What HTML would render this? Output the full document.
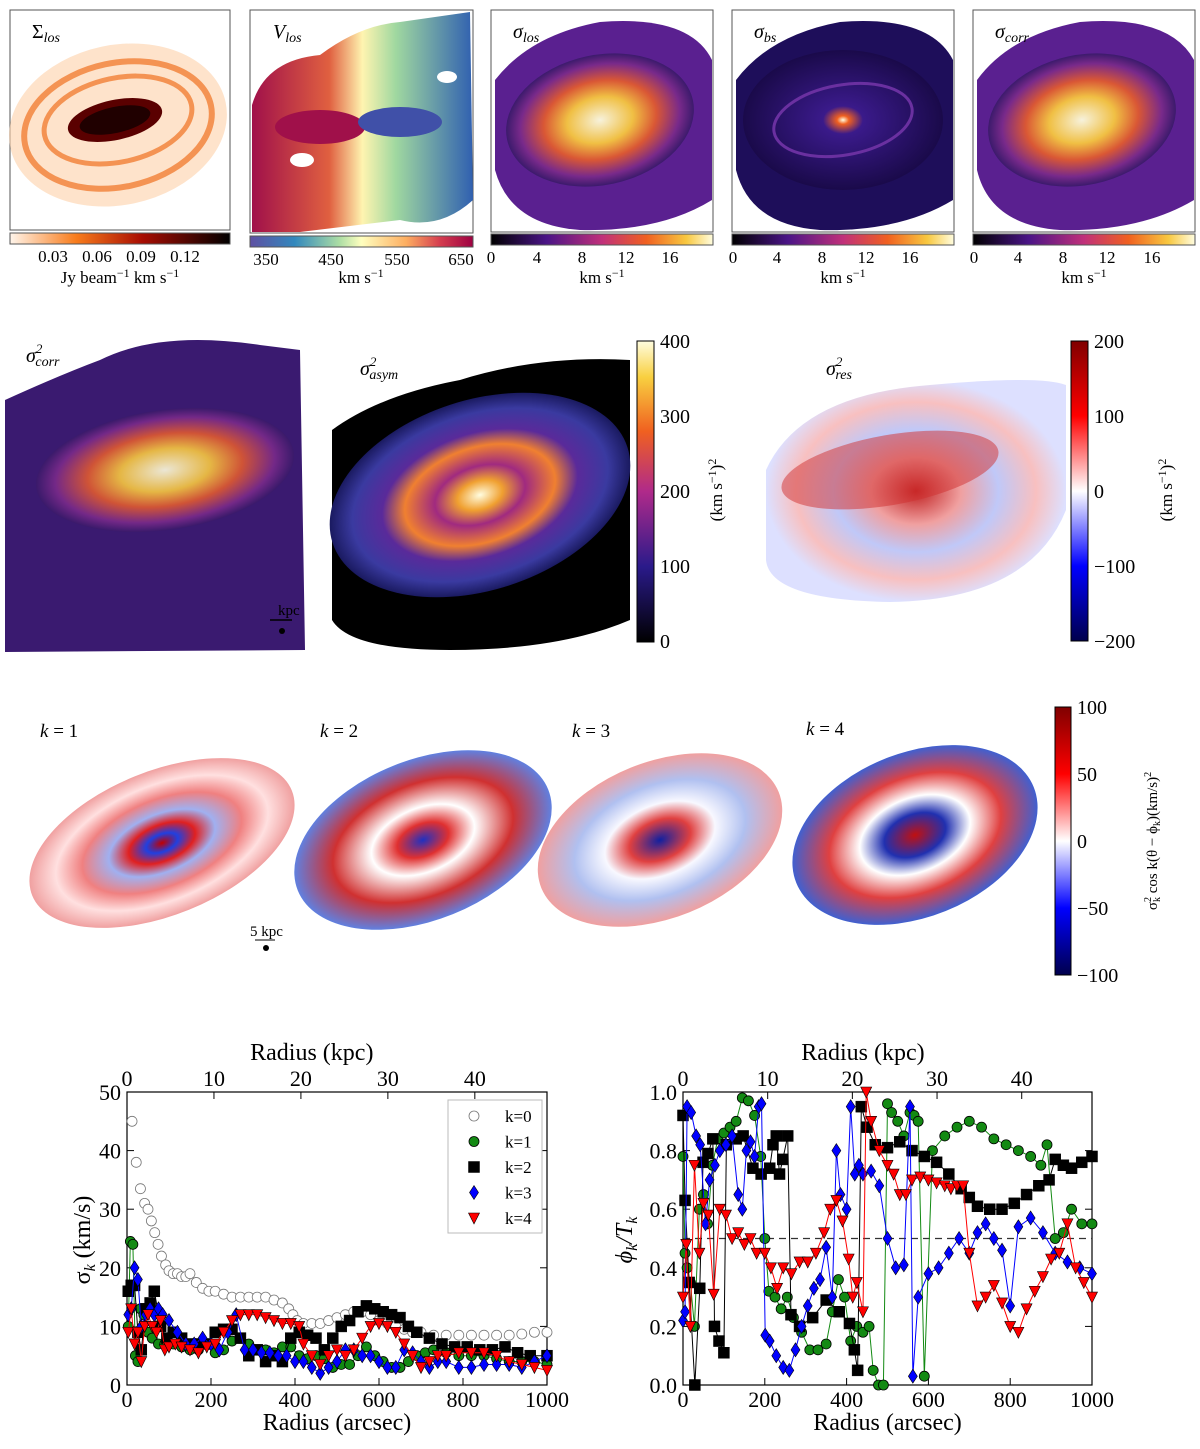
<!DOCTYPE html>
<html><head><meta charset="utf-8">
<style>
body{margin:0;background:#fff;width:1200px;height:1449px;overflow:hidden;font-family:"Liberation Serif",serif;}
svg{position:absolute;left:0;top:0}
text{font-family:"Liberation Serif",serif;fill:#000}
</style></head>
<body>
<svg id="fig" width="1200" height="1449" viewBox="0 0 1200 1449">
<defs>
 <linearGradient id="gOr" x1="0" x2="1"><stop offset="0" stop-color="#fff5eb"/><stop offset="0.3" stop-color="#f87c1c"/><stop offset="0.6" stop-color="#a80d02"/><stop offset="1" stop-color="#000"/></linearGradient>
 <linearGradient id="gSp" x1="0" x2="1"><stop offset="0" stop-color="#5e4fa2"/><stop offset="0.2" stop-color="#3288bd"/><stop offset="0.4" stop-color="#abdda4"/><stop offset="0.5" stop-color="#ffffbf"/><stop offset="0.7" stop-color="#fdae61"/><stop offset="0.85" stop-color="#d53e4f"/><stop offset="1" stop-color="#9e0142"/></linearGradient>
 <linearGradient id="gInf" x1="0" x2="1"><stop offset="0" stop-color="#000"/><stop offset="0.25" stop-color="#4a1486"/><stop offset="0.5" stop-color="#c0307a"/><stop offset="0.7" stop-color="#f06020"/><stop offset="0.88" stop-color="#f8c840"/><stop offset="1" stop-color="#fffde0"/></linearGradient>
 <linearGradient id="gInfV" x1="0" y1="1" x2="0" y2="0"><stop offset="0" stop-color="#000"/><stop offset="0.25" stop-color="#2a1a8a"/><stop offset="0.5" stop-color="#b02a8a"/><stop offset="0.7" stop-color="#f06020"/><stop offset="0.88" stop-color="#f8d040"/><stop offset="1" stop-color="#fffde0"/></linearGradient>
 <linearGradient id="gSei" x1="0" y1="1" x2="0" y2="0"><stop offset="0" stop-color="#00004c"/><stop offset="0.25" stop-color="#0000ff"/><stop offset="0.5" stop-color="#ffffff"/><stop offset="0.75" stop-color="#ff0000"/><stop offset="1" stop-color="#800000"/></linearGradient>
 <radialGradient id="rSig"><stop offset="0" stop-color="#fffde0"/><stop offset="0.35" stop-color="#f8c840"/><stop offset="0.6" stop-color="#e05a30"/><stop offset="0.85" stop-color="#7a2a8a"/><stop offset="1" stop-color="#3a1a6a"/></radialGradient>
 <radialGradient id="rDark"><stop offset="0" stop-color="#fffde0"/><stop offset="0.06" stop-color="#f06020"/><stop offset="0.2" stop-color="#3a1a8a"/><stop offset="1" stop-color="#1a0a4a"/></radialGradient>
 <linearGradient id="vel" x1="0" x2="1"><stop offset="0" stop-color="#a0104a"/><stop offset="0.35" stop-color="#e06040"/><stop offset="0.5" stop-color="#fff4b0"/><stop offset="0.65" stop-color="#a0d8a0"/><stop offset="1" stop-color="#3060b0"/></linearGradient>
 <radialGradient id="rAsym"><stop offset="0" stop-color="#fffde0"/><stop offset="0.15" stop-color="#f0a030"/><stop offset="0.3" stop-color="#a02a80"/><stop offset="0.5" stop-color="#f08030"/><stop offset="0.65" stop-color="#5a2a9a"/><stop offset="0.85" stop-color="#3a3aa0"/><stop offset="1" stop-color="#1a1a60"/></radialGradient>
 <radialGradient id="rRes"><stop offset="0" stop-color="#c02020"/><stop offset="0.3" stop-color="#f0a0a0"/><stop offset="0.55" stop-color="#c0c8f8"/><stop offset="0.8" stop-color="#f8c0c0"/><stop offset="1" stop-color="#dde0ff"/></radialGradient>
 <radialGradient id="rK1"><stop offset="0" stop-color="#c00000"/><stop offset="0.12" stop-color="#2040e0"/><stop offset="0.25" stop-color="#e02020"/><stop offset="0.4" stop-color="#a0b0f0"/><stop offset="0.6" stop-color="#f08080"/><stop offset="0.8" stop-color="#ffe0e0"/><stop offset="1" stop-color="#f0a0a0"/></radialGradient>
 <radialGradient id="rK2"><stop offset="0" stop-color="#2030c0"/><stop offset="0.2" stop-color="#e03030"/><stop offset="0.4" stop-color="#ffffff"/><stop offset="0.7" stop-color="#d03030"/><stop offset="1" stop-color="#6080e0"/></radialGradient>
 <radialGradient id="rK3"><stop offset="0" stop-color="#1020a0"/><stop offset="0.25" stop-color="#e04040"/><stop offset="0.45" stop-color="#f8f8ff"/><stop offset="0.7" stop-color="#b0c0f0"/><stop offset="1" stop-color="#f0a0a0"/></radialGradient>
 <radialGradient id="rK4"><stop offset="0" stop-color="#c01010"/><stop offset="0.25" stop-color="#2030b0"/><stop offset="0.45" stop-color="#ffffff"/><stop offset="0.7" stop-color="#e04040"/><stop offset="1" stop-color="#4060d0"/></radialGradient>
</defs>

<!-- Row 1 -->
<g>
 <rect x="10" y="10" width="220" height="220" fill="#fff" stroke="#555"/>
 <ellipse cx="118" cy="125" rx="110" ry="80" fill="#fdd0a8" opacity="0.6" transform="rotate(-12 118 125)"/>
 <ellipse cx="118" cy="125" rx="95" ry="62" fill="none" stroke="#f07020" stroke-width="6" opacity="0.7" transform="rotate(-12 118 125)"/>
 <ellipse cx="118" cy="120" rx="75" ry="42" fill="none" stroke="#f07020" stroke-width="5" opacity="0.7" transform="rotate(-12 118 120)"/>
 <ellipse cx="115" cy="120" rx="48" ry="20" fill="#5a0000" transform="rotate(-12 115 120)"/>
 <ellipse cx="115" cy="120" rx="36" ry="13" fill="#200000" transform="rotate(-12 115 120)"/>
 <text x="32" y="38" font-size="20">Σ<tspan font-style="italic" font-size="14" dy="4">los</tspan></text>
 <rect x="10" y="233" width="220" height="11" fill="url(#gOr)" stroke="#555"/>
 <g font-size="17" text-anchor="middle"><text x="53" y="262">0.03</text><text x="97" y="262">0.06</text><text x="141" y="262">0.09</text><text x="185" y="262">0.12</text></g>
 <text x="120" y="283" font-size="17" text-anchor="middle">Jy beam<tspan dy="-6" font-size="12">−1</tspan><tspan dy="6"> km s</tspan><tspan dy="-6" font-size="12">−1</tspan></text>
</g>
<g>
 <rect x="250" y="10" width="223" height="223" fill="#fff" stroke="#555"/>
 <path d="M252 105 Q265 60 320 55 Q360 25 400 22 L470 12 L473 200 Q440 230 400 220 L300 232 L252 232 Z" fill="url(#vel)"/>
 <ellipse cx="320" cy="127" rx="45" ry="17" fill="#a0104a"/>
 <ellipse cx="400" cy="122" rx="42" ry="15" fill="#4050a8"/>
 <ellipse cx="302" cy="160" rx="12" ry="7" fill="#fff"/>
 <ellipse cx="447" cy="77" rx="10" ry="6" fill="#fff"/>
 <text x="273" y="38" font-size="20" font-style="italic">V<tspan font-size="14" dy="4">los</tspan></text>
 <rect x="250" y="236" width="223" height="11" fill="url(#gSp)" stroke="#555"/>
 <g font-size="17" text-anchor="middle"><text x="266" y="265">350</text><text x="331" y="265">450</text><text x="397" y="265">550</text><text x="461" y="265">650</text></g>
 <text x="361" y="283" font-size="17" text-anchor="middle">km s<tspan dy="-6" font-size="12">−1</tspan></text>
</g>
<g>
 <rect x="491" y="10" width="222" height="222" fill="#fff" stroke="#555"/>
 <path d="M495 80 Q530 35 600 22 Q690 15 712 60 L712 200 Q660 232 580 230 Q510 225 495 170 Z" fill="#5a2090"/>
 <ellipse cx="600" cy="120" rx="95" ry="65" fill="url(#rSig)" transform="rotate(-12 600 120)" opacity="0.95"/>
 <text x="513" y="38" font-size="20" font-style="italic">σ<tspan font-size="14" dy="4">los</tspan></text>
 <rect x="491" y="234" width="222" height="11" fill="url(#gInf)" stroke="#555"/>
 <g font-size="17" text-anchor="middle"><text x="491" y="263">0</text><text x="537" y="263">4</text><text x="582" y="263">8</text><text x="626" y="263">12</text><text x="670" y="263">16</text></g>
 <text x="602" y="283" font-size="17" text-anchor="middle">km s<tspan dy="-6" font-size="12">−1</tspan></text>
</g>
<g>
 <rect x="732" y="10" width="222" height="222" fill="#fff" stroke="#555"/>
 <path d="M736 80 Q770 35 840 22 Q930 15 953 60 L953 200 Q900 232 820 230 Q750 225 736 170 Z" fill="#1e0e5a"/>
 <ellipse cx="843" cy="120" rx="100" ry="70" fill="url(#rDark)"/>
 <ellipse cx="843" cy="120" rx="70" ry="35" fill="none" stroke="#6a30a0" stroke-width="3" transform="rotate(-10 843 120)"/>
 <text x="754" y="38" font-size="20" font-style="italic">σ<tspan font-size="14" dy="4">bs</tspan></text>
 <rect x="732" y="234" width="222" height="11" fill="url(#gInf)" stroke="#555"/>
 <g font-size="17" text-anchor="middle"><text x="733" y="263">0</text><text x="777" y="263">4</text><text x="822" y="263">8</text><text x="866" y="263">12</text><text x="910" y="263">16</text></g>
 <text x="843" y="283" font-size="17" text-anchor="middle">km s<tspan dy="-6" font-size="12">−1</tspan></text>
</g>
<g>
 <rect x="973" y="10" width="222" height="222" fill="#fff" stroke="#555"/>
 <path d="M977 80 Q1010 35 1080 22 Q1170 15 1194 60 L1194 200 Q1140 232 1060 230 Q990 225 977 170 Z" fill="#5a2090"/>
 <ellipse cx="1082" cy="120" rx="95" ry="65" fill="url(#rSig)" transform="rotate(-12 1082 120)" opacity="0.95"/>
 <text x="995" y="38" font-size="20" font-style="italic">σ<tspan font-size="14" dy="4">corr</tspan></text>
 <rect x="973" y="234" width="222" height="11" fill="url(#gInf)" stroke="#555"/>
 <g font-size="17" text-anchor="middle"><text x="974" y="263">0</text><text x="1018" y="263">4</text><text x="1063" y="263">8</text><text x="1107" y="263">12</text><text x="1152" y="263">16</text></g>
 <text x="1084" y="283" font-size="17" text-anchor="middle">km s<tspan dy="-6" font-size="12">−1</tspan></text>
</g>

<!-- Row 2 -->
<g>
 <path d="M5 400 Q60 375 100 360 Q160 330 260 345 L300 350 L305 650 L5 652 Z" fill="#3a1a70"/>
 <ellipse cx="165" cy="470" rx="130" ry="60" fill="url(#rSig)" transform="rotate(-8 165 470)" opacity="0.9"/>
 <text x="26" y="362" font-size="20" font-style="italic">σ<tspan font-size="13" dy="-9">2</tspan><tspan font-size="14" dx="-7" dy="13">corr</tspan></text>
 <line x1="270" y1="620" x2="292" y2="620" stroke="#000" stroke-width="1.5"/>
 <text x="278" y="615" font-size="15">kpc</text>
 <circle cx="282" cy="631" r="3" fill="#000"/>
</g>
<g>
 <path d="M332 430 Q380 395 460 380 Q540 355 630 360 L630 620 Q560 650 450 650 Q350 650 332 620 Z" fill="#000"/>
 <ellipse cx="480" cy="495" rx="155" ry="95" fill="url(#rAsym)" transform="rotate(-18 480 495)"/>
 <text x="360" y="375" font-size="20" font-style="italic">σ<tspan font-size="13" dy="-9">2</tspan><tspan font-size="14" dx="-7" dy="13">asym</tspan></text>
 <rect x="637" y="341" width="17" height="301" fill="url(#gInfV)" stroke="#000"/>
 <g font-size="20"><text x="660" y="348">400</text><text x="660" y="423">300</text><text x="660" y="498">200</text><text x="660" y="573">100</text><text x="660" y="648">0</text></g>
 <text transform="translate(722 490) rotate(-90)" font-size="17" text-anchor="middle">(km s<tspan dy="-6" font-size="12">−1</tspan><tspan dy="6">)</tspan><tspan dy="-6" font-size="12">2</tspan></text>
</g>
<g>
 <path d="M766 470 Q800 395 930 385 Q1040 375 1066 385 L1066 510 Q1030 600 890 602 Q770 600 766 560 Z" fill="url(#rRes)"/>
 <ellipse cx="890" cy="470" rx="110" ry="35" fill="#d03030" opacity="0.5" transform="rotate(-10 890 470)"/>
 <text x="826" y="375" font-size="20" font-style="italic">σ<tspan font-size="13" dy="-9">2</tspan><tspan font-size="14" dx="-7" dy="13">res</tspan></text>
 <rect x="1071" y="341" width="17" height="300" fill="url(#gSei)" stroke="#000"/>
 <g font-size="20"><text x="1094" y="348">200</text><text x="1094" y="423">100</text><text x="1094" y="498">0</text><text x="1094" y="573">−100</text><text x="1094" y="648">−200</text></g>
 <text transform="translate(1172 490) rotate(-90)" font-size="17" text-anchor="middle">(km s<tspan dy="-6" font-size="12">−1</tspan><tspan dy="6">)</tspan><tspan dy="-6" font-size="12">2</tspan></text>
</g>

<!-- Row 3 -->
<g>
 <ellipse cx="162" cy="843" rx="140" ry="72" fill="url(#rK1)" transform="rotate(-22 162 843)"/>
 <text x="40" y="737" font-size="19"><tspan font-style="italic">k</tspan> = 1</text>
 <line x1="255" y1="940" x2="275" y2="940" stroke="#000"/><text x="250" y="936" font-size="15">5 kpc</text><circle cx="266" cy="948" r="3" fill="#000"/>
</g>
<g>
 <ellipse cx="423" cy="840" rx="135" ry="80" fill="url(#rK2)" transform="rotate(-22 423 840)"/>
 <text x="320" y="737" font-size="19"><tspan font-style="italic">k</tspan> = 2</text>
</g>
<g>
 <ellipse cx="660" cy="840" rx="128" ry="78" fill="url(#rK3)" transform="rotate(-22 660 840)"/>
 <text x="572" y="737" font-size="19"><tspan font-style="italic">k</tspan> = 3</text>
</g>
<g>
 <ellipse cx="915" cy="835" rx="128" ry="82" fill="url(#rK4)" transform="rotate(-22 915 835)"/>
 <text x="806" y="735" font-size="19"><tspan font-style="italic">k</tspan> = 4</text>
</g>
<g>
 <rect x="1055" y="707" width="16" height="268" fill="url(#gSei)" stroke="#000"/>
 <g font-size="20"><text x="1077" y="714">100</text><text x="1077" y="781">50</text><text x="1077" y="848">0</text><text x="1077" y="915">−50</text><text x="1077" y="982">−100</text></g>
 <text transform="translate(1157 841) rotate(-90)" font-size="15" text-anchor="middle">σ<tspan font-size="10" dy="-6">2</tspan><tspan font-size="10" dx="-5" dy="9">k</tspan><tspan dy="-3"> cos k(θ − ϕ</tspan><tspan font-size="10" dy="3">k</tspan><tspan dy="-3">)(km/s)</tspan><tspan font-size="10" dy="-6">2</tspan></text>
</g>

<g id="charts"></g>
</svg>
<script>
// ===== Left chart data (sigma_k vs radius) =====
const k0R=[12,22,32,42,50,58,66,74,82,92,100,110,120,130,140,150,165,180,195,210,230,250,270,290,310,330,350,370,385,395,405,420,440,460,480,500,520,540,560,580,600,620,640,660,680,700,730,760,790,820,850,880,910,940,970,1000];
const k0V=[45,38,33.5,31,30,28,26,24,22,20.5,19.5,19,19,18.5,18.5,19,17.5,16.5,16,16,15.5,15,15,15,15,15,14.5,14,13,12,11,10.5,10.5,10.5,11,11.5,12,12.5,12.5,12,11,10.5,10,9.5,9,9,8.5,8.5,8.5,8.5,8.5,8.5,8.5,8.7,9,9];
const k1R=[3,8,14,20,26,32,40,50,60,75,90,110,130,150,170,190,210,230,250,270,290,310,330,350,370,390,410,430,450,470,490,510,530,550,570,590,610,630,650,670,690,710,730,760,790,820,850,880,910,940,970,1000];
const k1V=[10,24.5,24,5,4,13,12,9,8,7,7,7,6.5,6,6,7,5.5,6,7.5,8,7,6,6,5.5,6.5,6.5,5,4.5,5,4.5,3,3.5,3.5,5,6.5,5,4,3,3,4,5,5.5,6,5.5,5,5,5,4.5,4,4,4,3.5];
const k2R=[3,10,18,26,34,45,55,65,80,95,110,130,150,170,190,210,230,250,270,290,310,330,350,370,390,410,430,450,470,490,510,530,550,570,590,610,630,650,670,690,720,750,780,810,840,870,900,930,960,1000];
const k2V=[16,17,17,9,6,13,14,16,10,8,9,8,7,7,7,9,9.5,9.5,8,5,6,4,5,4,8,9,8.5,8,6,8,10,11,12.5,13.5,13,12.5,12,11.5,10,9,8,7,6.5,6.5,6,6,6.5,5.5,5,5];
const k3R=[3,10,18,26,34,45,55,65,75,85,100,120,140,160,180,200,220,240,260,280,300,320,340,360,380,400,420,440,460,480,500,520,540,560,580,600,620,640,660,680,700,720,740,760,790,820,850,880,910,940,970,1000];
const k3V=[12,13,20,18,10,12,13,12,13,12,11,9,7,7,8,7,6,9,12,6,6,5.5,5.5,5,5,4,4,3,2,3,4,6,6,5,5,4,3,3,6,5.5,4,3,4,4,3,3,3.5,3.5,3.5,3,4,5];
const k4R=[3,10,18,26,34,42,50,60,70,80,90,100,115,130,150,170,190,210,230,250,270,290,310,330,350,370,390,410,420,440,460,480,500,520,540,560,580,600,620,640,660,680,700,720,740,760,790,820,850,880,910,940,970,1000];
const k4V=[9,13,7,9,4,10,12,10,9,11,6,6.5,7,6.5,6,5.5,6.5,7,9,11,12,12,12,11.5,11,10.5,10.5,10,7,5,3.5,5,6,5,6,8,10,10.5,10,9,7,5,3,4,5,5,5.5,5.5,5.5,5,4,3.5,3,2.5];
const leftYTicks=[0,10,20,30,40,50];
const leftXTicks=[0,200,400,600,800,1000];
const kpcTicks=[0,10,20,30,40];
// ===== Right chart data (phi_k/T_k vs radius) =====
const p1R=[0,5,10,18,28,40,50,60,72,85,100,115,130,145,160,175,190,200,210,225,240,255,270,290,310,330,350,365,380,395,410,425,440,455,465,478,490,500,510,525,540,555,565,575,590,610,640,670,700,730,760,790,820,850,875,890,910,930,950,975,1000];
const p1V=[0.78,0.45,0.4,0.35,0.2,0.6,0.65,0.55,0.75,0.84,0.86,0.88,0.9,0.98,0.97,0.92,0.78,0.5,0.32,0.3,0.26,0.3,0.23,0.18,0.12,0.12,0.14,0.25,0.36,0.3,0.15,0.2,0.18,0.2,0.05,0.0,0.0,0.96,0.93,0.9,0.85,0.93,0.92,0.9,0.03,0.8,0.85,0.88,0.9,0.88,0.84,0.82,0.8,0.78,0.75,0.82,0.5,0.52,0.6,0.55,0.55];
const p2R=[0,5,15,29,41,49,61,73,77,88,100,106,130,147,171,191,212,220,228,236,244,256,264,285,317,350,382,407,419,427,436,450,470,500,530,560,590,620,650,680,700,720,750,780,810,840,870,895,910,930,950,975,1000];
const p2V=[0.92,0.63,0.35,0.0,0.33,0.76,0.79,0.84,0.2,0.15,0.11,0.82,0.84,0.85,0.74,0.72,0.74,0.82,0.85,0.72,0.77,0.85,0.24,0.2,0.23,0.29,0.25,0.21,0.12,0.05,0.95,0.88,0.82,0.81,0.83,0.8,0.78,0.76,0.72,0.67,0.64,0.61,0.6,0.6,0.62,0.65,0.68,0.7,0.77,0.75,0.74,0.76,0.78];
const p3R=[0,5,10,20,32,42,55,65,78,90,105,120,135,145,155,165,175,185,192,201,212,228,245,260,275,290,305,320,335,350,365,375,385,400,410,420,430,440,460,480,500,520,540,555,562,575,600,625,650,675,700,720,740,760,780,800,820,850,880,910,940,970,1000];
const p3V=[0.22,0.25,0.95,0.93,0.85,0.82,0.55,0.7,0.75,0.8,0.82,0.85,0.65,0.6,0.8,0.83,0.78,0.95,0.96,0.17,0.15,0.1,0.06,0.05,0.12,0.2,0.27,0.33,0.36,0.47,0.3,0.8,0.65,0.6,0.95,0.72,0.75,0.72,0.73,0.68,0.5,0.4,0.41,0.95,0.03,0.3,0.38,0.4,0.45,0.5,0.45,0.52,0.55,0.5,0.46,0.27,0.54,0.57,0.52,0.45,0.42,0.4,0.38];
const p4R=[0,8,18,28,40,50,62,75,90,105,120,135,150,165,180,200,215,230,245,265,285,305,325,345,360,375,390,405,415,425,440,448,460,480,500,515,530,545,560,580,600,620,640,655,670,685,700,720,740,760,780,800,820,840,860,880,900,920,940,960,980,1000];
const p4V=[0.3,0.48,0.2,0.75,0.45,0.62,0.58,0.31,0.6,0.58,0.5,0.52,0.48,0.5,0.45,0.45,0.4,0.33,0.4,0.38,0.42,0.42,0.45,0.52,0.6,0.63,0.56,0.43,0.3,0.35,0.25,1.0,0.9,0.8,0.75,0.72,0.65,0.65,0.7,0.71,0.7,0.69,0.68,0.67,0.68,0.68,0.45,0.27,0.3,0.34,0.28,0.2,0.18,0.26,0.32,0.37,0.43,0.45,0.55,0.4,0.35,0.3];
const rightYTicks=[0.0,0.2,0.4,0.6,0.8,1.0];
const rightXTicks=[0,200,400,600,800,1000];

const NS='http://www.w3.org/2000/svg';
const root=document.getElementById('charts');
function mk(tag,attrs,parent){const e=document.createElementNS(NS,tag);for(const k in attrs)e.setAttribute(k,attrs[k]);(parent||root).appendChild(e);return e;}

function makeAxes(x0,x1,y0,y1,ymax){
  return {sx:r=>x0+(r/1000)*(x1-x0), sy:v=>y1-(v/ymax)*(y1-y0)};
}
function marker(g,type,x,y,fill){
  let e;
  if(type==='o'){e=mk('circle',{cx:x,cy:y,r:5,fill:fill,stroke:fill==='#fff'?'#777':'#000','stroke-width':0.8},g);}
  else if(type==='s'){e=mk('rect',{x:x-5.5,y:y-5.5,width:11,height:11,fill:fill,stroke:'#000','stroke-width':0.5},g);}
  else if(type==='d'){e=mk('polygon',{points:`${x},${y-7} ${x+4.5},${y} ${x},${y+7} ${x-4.5},${y}`,fill:fill,stroke:'#000','stroke-width':0.6},g);}
  else {e=mk('polygon',{points:`${x-5.5},${y-5} ${x+5.5},${y-5} ${x},${y+6}`,fill:fill,stroke:'#000','stroke-width':0.6},g);}
  return e;
}
function series(ax,R,V,type,fill,line,name){
  const g=mk('g',{});
  
  
  if(line){
    const pts=R.map((r,i)=>ax.sx(r)+','+ax.sy(V[i])).join(' ');
    mk('polyline',{points:pts,fill:'none',stroke:line,'stroke-width':1},g);
  }
  R.forEach((r,i)=>{const m=marker(g,type,ax.sx(r),ax.sy(V[i]),fill);
    
    });
}
function frame(x0,x1,y0,y1,ax,yT,xT,fmt){
  const g=mk('g',{});
  
  
  mk('rect',{x:x0,y:y0,width:x1-x0,height:y1-y0,fill:'none',stroke:'#000','stroke-width':1.2},g);
  yT.forEach(v=>{const y=ax.sy(v);
    mk('line',{x1:x0,y1:y,x2:x0+7,y2:y,stroke:'#000'},g);mk('line',{x1:x1,y1:y,x2:x1-7,y2:y,stroke:'#000'},g);
    const t=mk('text',{x:x0-6,y:y+8,'font-size':22,'text-anchor':'end'},g);t.textContent=fmt(v);
    
    });
  xT.forEach(r=>{const x=ax.sx(r);
    mk('line',{x1:x,y1:y1,x2:x,y2:y1-7,stroke:'#000'},g);
    const t=mk('text',{x:x,y:y1+22,'font-size':22,'text-anchor':'middle'},g);t.textContent=r;
    
    });
  kpcTicks.forEach(k=>{const x=ax.sx(k*1000/48.3);
    mk('line',{x1:x,y1:y0,x2:x,y2:y0+7,stroke:'#000'},g);
    const t=mk('text',{x:x,y:y0-6,'font-size':22,'text-anchor':'middle'},g);t.textContent=k;
    
    });
  const tt=mk('text',{x:(x0+x1)/2-(x1-x0)*0.06,y:y0-32,'font-size':24,'text-anchor':'middle'},g);tt.textContent='Radius (kpc)';
  
  
  const bt=mk('text',{x:(x0+x1)/2,y:y1+45,'font-size':24,'text-anchor':'middle'},g);bt.textContent='Radius (arcsec)';
  
  
}
// Left chart
const LA=makeAxes(127,547,1092,1385,50);
frame(127,547,1092,1385,LA,leftYTicks,leftXTicks,v=>v);
series(LA,k0R,k0V,'o','#fff',null,'series-k0');
series(LA,k1R,k1V,'o','#138a13','#138a13','series-k1');
series(LA,k2R,k2V,'s','#000','#000','series-k2');
series(LA,k3R,k3V,'d','#0000ff','#0000ff','series-k3');
series(LA,k4R,k4V,'t','#ff0000','#ff0000','series-k4');
const yl=mk('text',{transform:'translate(90 1240) rotate(-90)','font-size':24,'text-anchor':'middle'});
yl.innerHTML='σ<tspan font-size="16" dy="5" font-style="italic">k</tspan><tspan dy="-5"> (km/s)</tspan>';


// legend
const lg=mk('g',{});


mk('rect',{x:448,y:1100,width:94,height:133,fill:'#fff',stroke:'#bbb'},lg);
const legLabels=['k=0','k=1','k=2','k=3','k=4'];
const legT=['o','o','s','d','t'],legC=['#fff','#138a13','#000','#0000ff','#ff0000'];
legLabels.forEach((l,i)=>{const y=1116+i*25.5;marker(lg,legT[i],474,y,legC[i]);
  const t=mk('text',{x:505,y:y+6,'font-size':17},lg);t.textContent=l;
  
  });
// Right chart
const RA=makeAxes(683,1092,1092,1385,1);
frame(683,1092,1092,1385,RA,rightYTicks,rightXTicks,v=>v.toFixed(1));
const dl=mk('line',{x1:683,y1:RA.sy(0.5),x2:1092,y2:RA.sy(0.5),stroke:'#333','stroke-dasharray':'7 5','stroke-width':1.2});


series(RA,p1R,p1V,'o','#138a13','#138a13','phase-k1');
series(RA,p2R,p2V,'s','#000','#000','phase-k2');
series(RA,p3R,p3V,'d','#0000ff','#0000ff','phase-k3');
series(RA,p4R,p4V,'t','#ff0000','#ff0000','phase-k4');
const yr=mk('text',{transform:'translate(632 1240) rotate(-90)','font-size':24,'text-anchor':'middle','font-style':'italic'});
yr.innerHTML='ϕ<tspan font-size="16" dy="5">k</tspan><tspan dy="-5">/T</tspan><tspan font-size="16" dy="5">k</tspan>';


</script>
</body></html>
